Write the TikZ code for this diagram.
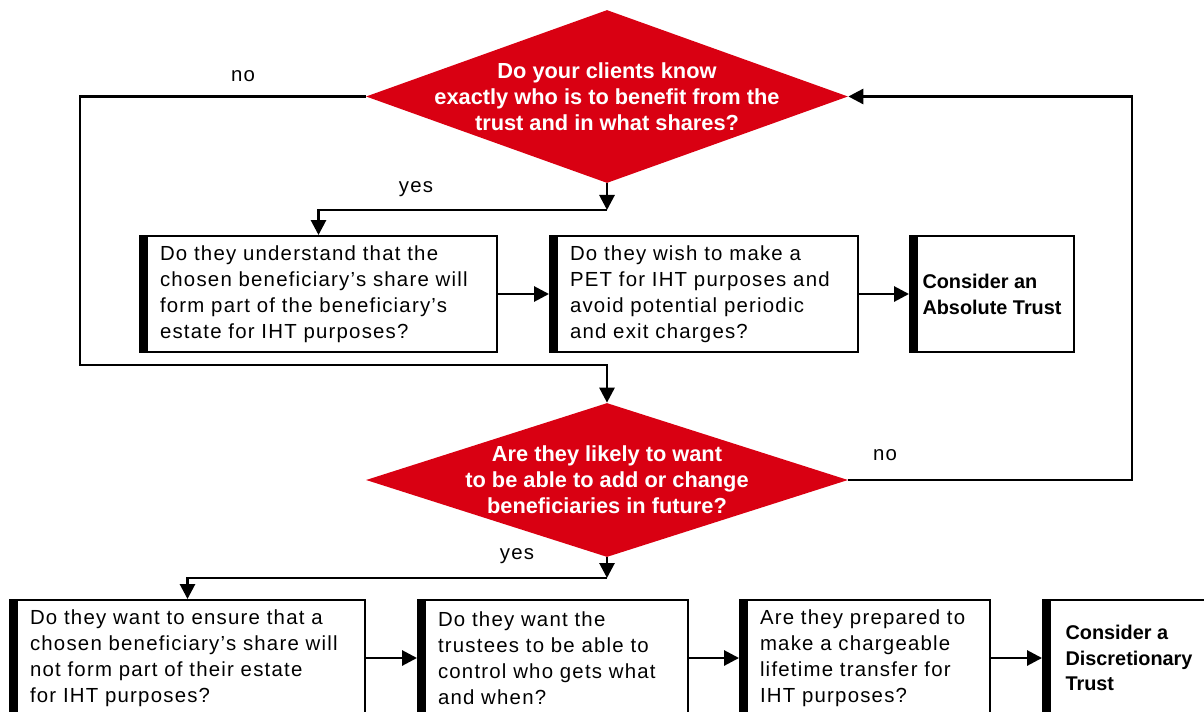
\documentclass[tikz,border=0pt]{standalone}
\usepackage{fontspec}
\setmainfont{Liberation Sans}
\newfontfamily\boxfont[LetterSpace=6]{Liberation Sans}
\usetikzlibrary{shapes,arrows.meta,positioning,calc}
\definecolor{deepred}{RGB}{217,0,18}

\begin{document}
\begin{tikzpicture}[
    decision/.style={diamond, fill=deepred, minimum width=9.64cm, inner sep=0pt},
    dectext/.style={text=white, font=\fontsize{12.4}{14.9}\selectfont\bfseries, align=center},
    qbox/.style={draw, line width=1.1pt, minimum height=2.32cm, inner xsep=0.4cm, align=left,
        font=\boxfont\fontsize{11.6}{14.7}\selectfont,
        path picture={\fill[black] (path picture bounding box.north west) rectangle ([xshift=0.16cm]path picture bounding box.south west);}},
    endbox/.style={qbox, inner xsep=0.2cm, font=\fontsize{11.3}{14.7}\selectfont\bfseries},
    link/.style={line width=1.6pt, -{Triangle[length=0.3cm,width=0.3cm]}},
    answer/.style={font=\boxfont\fontsize{11.6}{14}\selectfont}
]
    \useasboundingbox (0,0) rectangle (24.08,14.22);
    \clip (0,0) rectangle (24.08,14.22);

    % Decisions
    \node[decision, minimum height=3.46cm, label={[dectext]center:{Do your clients know\\exactly who is to benefit from the\\trust and in what shares?}}] (q1) at (12.14,12.29) {};
    \node[decision, minimum height=3.08cm, label={[dectext]center:{Are they likely to want\\to be able to add or change\\beneficiaries in future?}}] (q2) at (12.14,4.62) {};

    % Upper row
    \node[qbox, text width=6.34cm] (understand) at (6.37,8.34) {Do they understand  that the\\chosen beneficiary’s  share will\\form part of the beneficiary’s\\estate  for IHT purposes?};
    \node[qbox, text width=5.36cm] (pet) at (14.08,8.34) {Do they wish to make a\\PET for IHT purposes and\\avoid potential  periodic\\and exit  charges?};
    \node[endbox, minimum width=3.28cm] (absolute) at (19.84,8.34) {Consider an\\Absolute Trust};

    % Lower row
    \node[qbox, text width=6.30cm] (ensure) at (3.75,1.06) {Do they want to ensure that a\\chosen beneficiary’s  share will\\not form part of their  estate\\for IHT purposes?};
    \node[qbox, text width=4.60cm] (trustees) at (11.06,1.06) {Do they want the\\trustees  to be able to\\control who gets what\\and when?};
    \node[qbox, text width=4.20cm] (lifetime) at (17.30,1.06) {Are they prepared  to\\make a chargeable\\lifetime  transfer  for\\IHT purposes?};
    \node[endbox, minimum width=3.44cm] (discretionary) at (22.58,1.06) {Consider a\\Discretionary\\Trust};

    % Answers
    \node[answer] (no1) at (4.86,12.70) {no};
    \node[answer] (yes1) at (8.32,10.44) {yes};
    \node[answer] (no2) at (17.70,5.12) {no};
    \node[answer] (yes2) at (10.34,3.10) {yes};

    % Arrows
    \coordinate (split1) at (12.14,10.02);
    \coordinate (loopL) at (1.6,6.92);
    \coordinate (loopR) at (22.64,4.62);
    \coordinate (split2) at (12.14,2.66);
    \draw[link] (q1.south) -- (split1);
    \draw[link] (split1) -| (understand.north);
    \draw[link] (understand.east) -- (pet.west);
    \draw[link] (pet.east) -- (absolute.west);
    \draw[link] (q1.west) -| (loopL) -- (loopL -| q2.north) -- (q2.north);
    \draw[link] (q2.east) -- (loopR) |- (q1.east);
    \draw[link] (q2.south) -- (split2);
    \draw[link] (split2) -| (ensure.north);
    \draw[link] (ensure.east) -- (trustees.west);
    \draw[link] (trustees.east) -- (lifetime.west);
    \draw[link] (lifetime.east) -- (discretionary.west);
\end{tikzpicture}
\end{document}
